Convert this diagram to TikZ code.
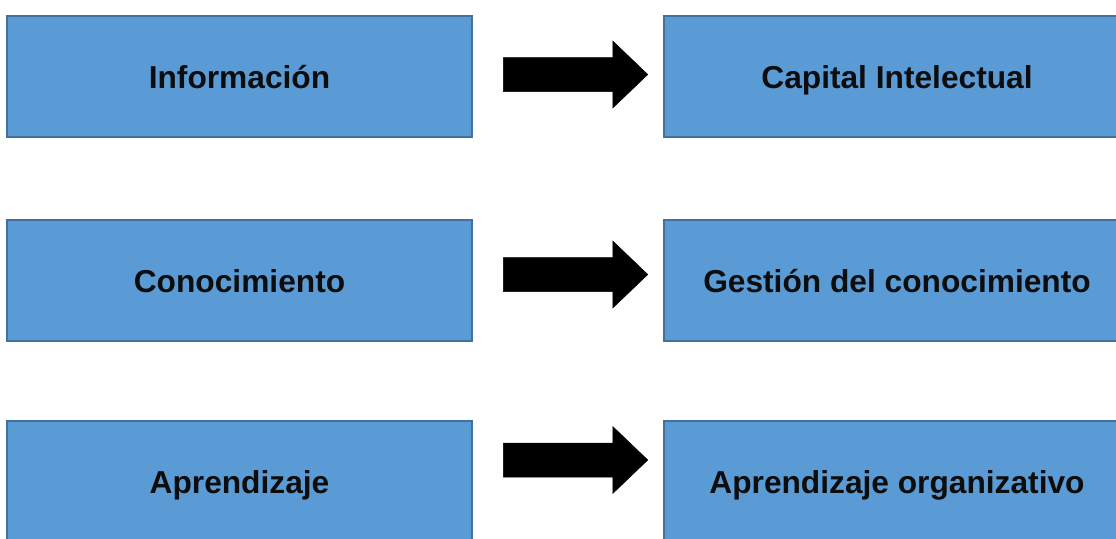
\documentclass[tikz,border=0pt]{standalone}
\usepackage{fontspec}
\setmainfont{Liberation Sans}
\usetikzlibrary{calc}
\definecolor{boxfill}{HTML}{5B9BD5}
\definecolor{boxline}{HTML}{41719C}
\definecolor{ink}{HTML}{0D0D0D}
\tikzset{
  concept/.style={rectangle, draw=boxline, fill=boxfill, line width=2.5pt,
    minimum width=465pt, minimum height=121pt, inner sep=0pt,
    text height=23pt, text depth=0pt,
    text=ink, font=\fontsize{31.7}{38}\selectfont\bfseries},
  fatarrow/.style={fill=black, draw=black, line width=0.5pt, line join=miter}
}
% block arrow from a start coordinate to a tip coordinate
\newcommand\blockarrow[2]{%
  \filldraw[fatarrow] ($(#1)+(0,-17)$) -- ($(#2)+(-35,-17)$) -- ($(#2)+(-35,-33.5)$)
    -- (#2) -- ($(#2)+(-35,33.5)$) -- ($(#2)+(-35,17)$) -- ($(#1)+(0,17)$) -- cycle;}
\begin{document}
\begin{tikzpicture}[x=1pt,y=-1pt]
  \useasboundingbox (0,0) rectangle (1116,538);
  \clip (0,0) rectangle (1116,538);
  \fill[white] (0,0) rectangle (1116,538);

  % left column
  \node[concept] (info) at (239.5,76.5) {Información};
  \node[concept] (cono) at (239.5,280.5) {Conocimiento};
  \node[concept] (apre) at (239.5,481.5) {Aprendizaje};
  % right column
  \node[concept, minimum width=466pt] (capi) at (897,76.5) {Capital Intelectual};
  \node[concept, minimum width=466pt] (gest) at (897,280.5) {Gestión del conocimiento};
  \node[concept, minimum width=466pt] (orga) at (897,481.5) {Aprendizaje organizativo};

  % arrow ends
  \coordinate (s1) at ($(info.east |- 0,74.5)+(30,0)$);
  \coordinate (t1) at ($(capi.west |- 0,74.5)+(-15,0)$);
  \coordinate (s2) at ($(cono.east |- 0,274.5)+(30,0)$);
  \coordinate (t2) at ($(gest.west |- 0,274.5)+(-15,0)$);
  \coordinate (s3) at ($(apre.east |- 0,460)+(30,0)$);
  \coordinate (t3) at ($(orga.west |- 0,460)+(-15,0)$);

  \blockarrow{s1}{t1}
  \blockarrow{s2}{t2}
  \blockarrow{s3}{t3}
\end{tikzpicture}
\end{document}
